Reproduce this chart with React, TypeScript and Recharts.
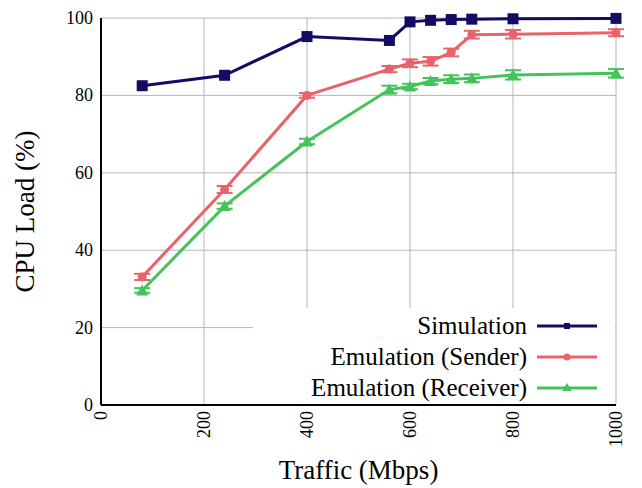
import React from 'react';
import {
  LineChart,
  Line,
  XAxis,
  YAxis,
  CartesianGrid,
  Legend,
  ErrorBar,
} from 'recharts';

const traffic = [80, 240, 400, 560, 600, 640, 680, 720, 800, 1000];
const simulation = [82.5, 85.2, 95.2, 94.2, 99.0, 99.4, 99.6, 99.7, 99.8, 99.9];
const sender = [33.1, 55.7, 80.0, 86.8, 88.3, 88.8, 91.1, 95.7, 95.8, 96.2];
const senderErr = [0.8, 0.9, 0.6, 0.8, 1.0, 1.1, 1.0, 1.0, 1.1, 0.9];
const receiver = [29.6, 51.4, 68.1, 81.5, 82.3, 83.7, 84.2, 84.4, 85.3, 85.7];
const receiverErr = [0.6, 0.7, 0.7, 1.0, 0.7, 0.8, 1.0, 1.0, 1.2, 1.1];
const xTicks = [0, 200, 400, 600, 800, 1000];
const yTicks = [0, 20, 40, 60, 80, 100];

const NAVY = '#130c63';
const RED = '#e8636a';
const GREEN = '#45c35b';
const FONT = '"Liberation Serif", "DejaVu Serif", serif';

const data = traffic.map((t, i) => ({
  traffic: t,
  simulation: simulation[i],
  sender: sender[i],
  senderErr: senderErr[i],
  receiver: receiver[i],
  receiverErr: receiverErr[i],
}));

const squareDot = (props: any) => {
  const { cx, cy, index } = props;
  return <rect key={`s-${index}`} x={cx - 5.5} y={cy - 5.5} width={11} height={11} fill={NAVY} />;
};

const circleDot = (props: any) => {
  const { cx, cy, index } = props;
  return <circle key={`c-${index}`} cx={cx} cy={cy} r={4.5} fill={RED} />;
};

const triangleDot = (props: any) => {
  const { cx, cy, index } = props;
  return (
    <polygon
      key={`t-${index}`}
      points={`${cx},${cy - 6} ${cx - 6},${cy + 5} ${cx + 6},${cy + 5}`}
      fill={GREEN}
    />
  );
};

const XTick = (props: any) => {
  const { x, y, payload } = props;
  return (
    <text
      x={x}
      y={y}
      transform={`rotate(-90 ${x} ${y})`}
      textAnchor="end"
      dominantBaseline="central"
      fontFamily={FONT}
      fontSize={18}
      fill="#000"
    >
      {payload.value}
    </text>
  );
};

const YTick = (props: any) => {
  const { x, y, payload } = props;
  return (
    <text x={x} y={y} textAnchor="end" dominantBaseline="central" fontFamily={FONT} fontSize={18} fill="#000">
      {payload.value}
    </text>
  );
};

const legendItems = [
  { label: 'Simulation', color: NAVY, shape: 'square' },
  { label: 'Emulation (Sender)', color: RED, shape: 'circle' },
  { label: 'Emulation (Receiver)', color: GREEN, shape: 'triangle' },
];

const LegendBox = () => (
  <div
    style={{
      background: '#fff',
      width: 362,
      height: 96,
      fontFamily: FONT,
      fontSize: 25,
      paddingTop: 2,
      boxSizing: 'border-box',
    }}
  >
    {legendItems.map((it) => (
      <div
        key={it.label}
        style={{ display: 'flex', justifyContent: 'flex-end', alignItems: 'center', height: 31, paddingRight: 16 }}
      >
        <span style={{ lineHeight: '31px' }}>{it.label}</span>
        <svg width={64} height={14} style={{ marginLeft: 8 }}>
          <line x1={2} y1={7} x2={62} y2={7} stroke={it.color} strokeWidth={3} />
          {it.shape === 'square' && <rect x={29} y={4} width={6} height={6} fill={it.color} />}
          {it.shape === 'circle' && <circle cx={32} cy={7} r={3.5} fill={it.color} />}
          {it.shape === 'triangle' && <polygon points="32,2 27,10 37,10" fill={it.color} />}
        </svg>
      </div>
    ))}
  </div>
);

export default function App() {
  return (
    <div style={{ position: 'absolute', left: 0, top: 0, width: 642, height: 488, background: '#fff' }}>
      <LineChart width={642} height={488} data={data} margin={{ top: 18, right: 26, bottom: 0, left: 0 }}>
        <CartesianGrid stroke="#b5b5b5" strokeWidth={1} vertical horizontal />
        <XAxis
          dataKey="traffic"
          type="number"
          domain={[0, 1000]}
          ticks={xTicks}
          height={83}
          tick={<XTick />}
          tickLine={false}
          tickSize={0}
          tickMargin={6}
          axisLine={{ stroke: '#000', strokeWidth: 2 }}
          label={{ value: 'Traffic (Mbps)', position: 'insideBottom', offset: 9, fontFamily: FONT, fontSize: 27, fill: '#000' }}
        />
        <XAxis xAxisId="top" orientation="top" dataKey="traffic" type="number" domain={[0, 1000]} height={0} tick={false} tickLine={false} axisLine={{ stroke: '#000', strokeWidth: 2 }} />
        <YAxis
          type="number"
          domain={[0, 100]}
          ticks={yTicks}
          width={101}
          tick={<YTick />}
          tickLine={false}
          tickSize={0}
          tickMargin={8}
          axisLine={{ stroke: '#000', strokeWidth: 2 }}
          label={{ value: 'CPU Load (%)', angle: -90, position: 'insideLeft', offset: 24, fontFamily: FONT, fontSize: 27, fill: '#000', style: { textAnchor: 'middle' } }}
        />
        <YAxis yAxisId="right" orientation="right" domain={[0, 100]} width={0} tick={false} tickLine={false} axisLine={{ stroke: '#000', strokeWidth: 2 }} />
        <Legend
          content={<LegendBox />}
          layout="horizontal"
          verticalAlign="middle"
          align="center"
          wrapperStyle={{ left: 253, top: 308, width: 362 }}
        />
        <Line
          dataKey="simulation"
          stroke={NAVY}
          strokeWidth={3}
          dot={squareDot}
          activeDot={false}
          isAnimationActive={false}
        />
        <Line
          dataKey="sender"
          stroke={RED}
          strokeWidth={3}
          dot={circleDot}
          activeDot={false}
          isAnimationActive={false}
        >
          <ErrorBar dataKey="senderErr" direction="y" width={8} stroke={RED} strokeWidth={2} isAnimationActive={false} />
        </Line>
        <Line
          dataKey="receiver"
          stroke={GREEN}
          strokeWidth={3}
          dot={triangleDot}
          activeDot={false}
          isAnimationActive={false}
        >
          <ErrorBar dataKey="receiverErr" direction="y" width={8} stroke={GREEN} strokeWidth={2} isAnimationActive={false} />
        </Line>
      </LineChart>
    </div>
  );
}
